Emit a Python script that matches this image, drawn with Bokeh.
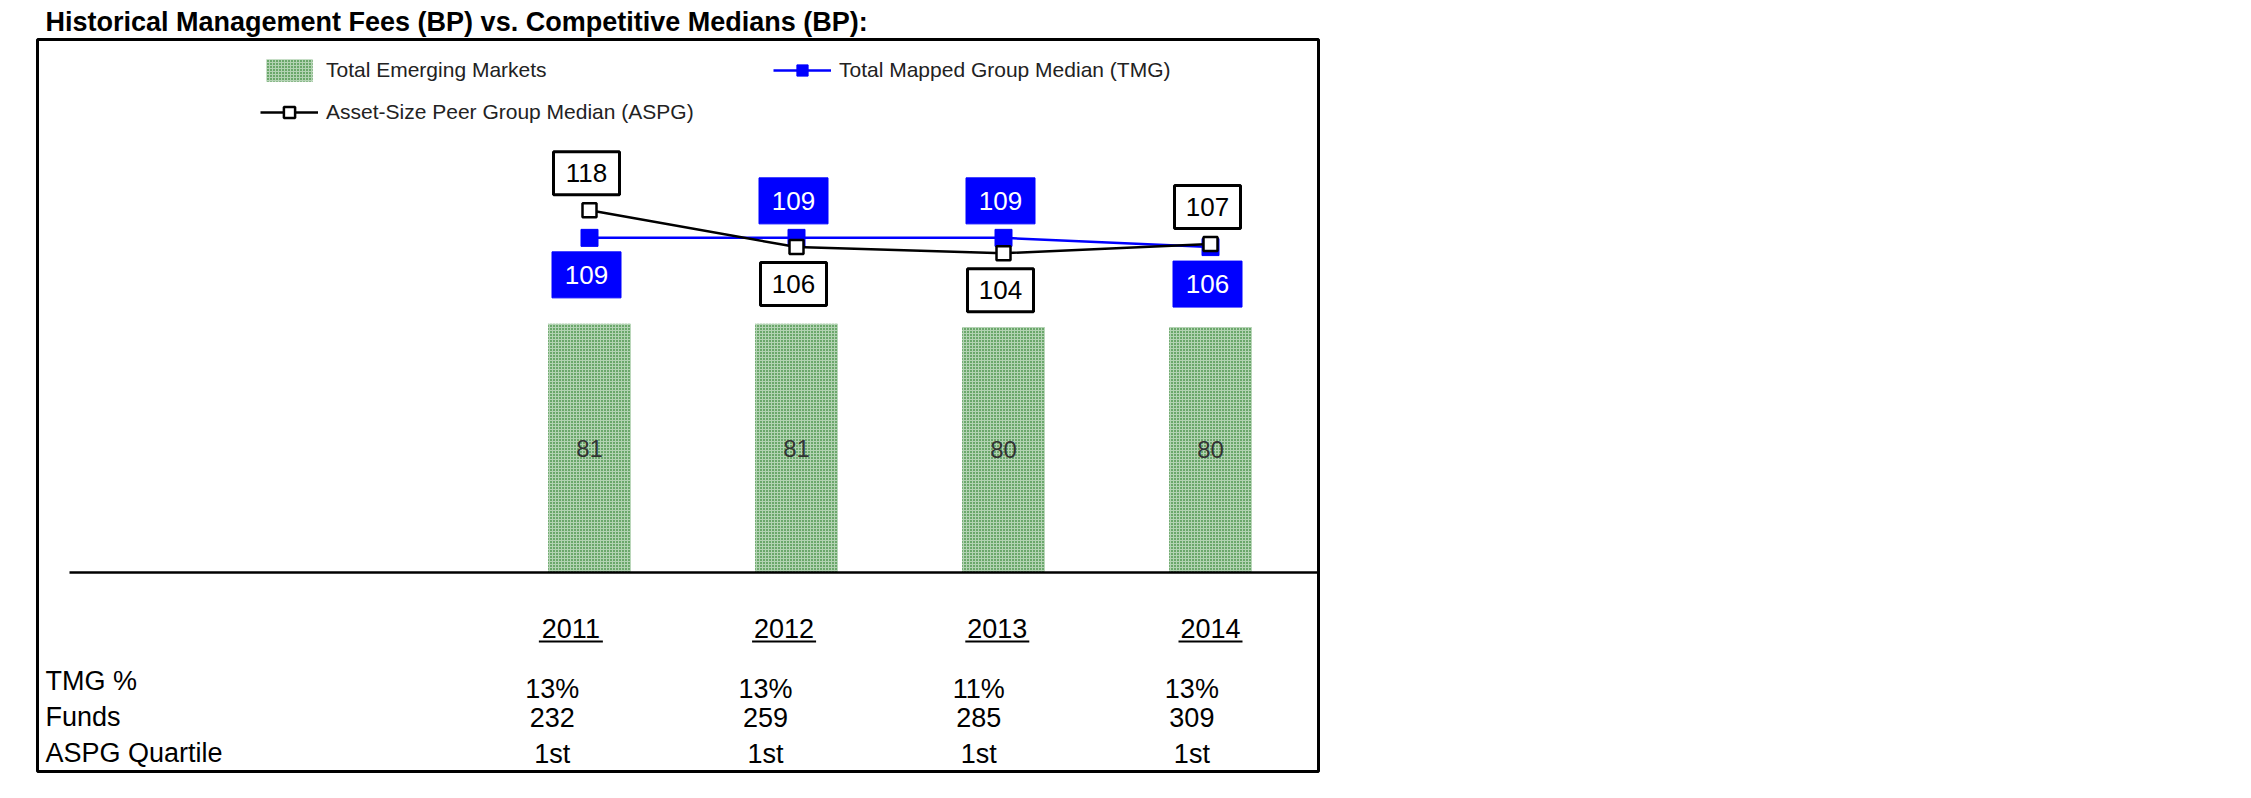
from bokeh.plotting import figure
from bokeh.models import Range1d, Legend, LegendItem, Title
from bokeh.embed import file_html
from bokeh.resources import INLINE
from bokeh.core.properties import value

# ---------------- data ----------------
years = ["2011", "2012", "2013", "2014"]
total_emerging = [81, 81, 80, 80]
tmg_median = [109, 109, 109, 106]
aspg_median = [118, 106, 104, 107]
tmg_pct = ["13%", "13%", "11%", "13%"]
funds = [232, 259, 285, 309]
aspg_quartile = ["1st", "1st", "1st", "1st"]
row_labels = ["TMG %", "Funds", "ASPG Quartile"]
series_names = ["Total Emerging Markets",
                "Total Mapped Group Median (TMG)",
                "Asset-Size Peer Group Median (ASPG)"]
title_text = "Historical Management Fees (BP) vs. Competitive Medians (BP):"

# label placement (+1 above the point, -1 below)
aspg_side = [1, -1, -1, 1]
tmg_side = [-1, 1, 1, -1]

# ---------------- layout (pixels) ----------------
W, H = 2251, 798
BOX_L, BOX_R, BOX_T, BOX_B = 37, 1318, 39, 771
X0_PX, DX_PX = 589, 207          # first category centre, category pitch
Y0_PX, PX_PER_BP = 572, 3.07     # zero line, pixels per basis point

x_start = (BOX_L - X0_PX) / DX_PX
x_end = (BOX_R - X0_PX) / DX_PX
y_end = (Y0_PX - BOX_T) / PX_PER_BP
y_start = (Y0_PX - BOX_B) / PX_PER_BP


def yd(py):
    return (Y0_PX - py) / PX_PER_BP


def xd(px):
    return (px - X0_PX) / DX_PX


FONT = value("Liberation Sans")
BLUE = "#0000FF"

xs = list(range(len(years)))

p = figure(width=W, height=H,
           x_range=Range1d(x_start, x_end), y_range=Range1d(y_start, y_end),
           x_axis_location=None, y_axis_location=None,
           output_backend="svg", toolbar_location=None,
           min_border_left=BOX_L, min_border_right=W - BOX_R,
           min_border_top=BOX_T, min_border_bottom=H - BOX_B)
p.grid.visible = False
p.outline_line_color = "black"
p.outline_line_width = 3
p.background_fill_color = "white"
p.border_fill_color = "white"

p.title = Title(text=title_text, align="left", offset=8, standoff=6,
                text_font="Liberation Sans", text_font_size="27px",
                text_font_style="bold", text_color="black")

# bars
bars = p.vbar(x=xs, top=total_emerging, bottom=0, width=0.40,
              fill_color="#b3d3b3", line_color=None,
              hatch_pattern="dot", hatch_color="#006400",
              hatch_scale=3, hatch_weight=2.2)
p.text(x=xs, y=[v / 2 for v in total_emerging],
       text=[str(v) for v in total_emerging],
       text_align="center", text_baseline="middle",
       text_font=FONT, text_font_size="24px", text_color="#333333")

# zero line
p.segment(x0=[xd(69)], y0=[0], x1=[x_end], y1=[0],
          line_color="black", line_width=2.5)

# TMG series
tmg_line = p.line(xs, tmg_median, line_color=BLUE, line_width=2.5)
tmg_pts = p.scatter(xs, tmg_median, marker="square", size=17,
                    fill_color=BLUE, line_color=BLUE, line_width=1)

# ASPG series
aspg_line = p.line(xs, aspg_median, line_color="black", line_width=2.5)
aspg_pts = p.scatter(xs, aspg_median, marker="square", size=14,
                     fill_color="white", line_color="black", line_width=2.5)

# data label boxes
OFF = 37 / PX_PER_BP
LBL_DX = -3 / DX_PX
tmg_lx = [x + LBL_DX for x in xs]
tmg_ly = [v + s * OFF for v, s in zip(tmg_median, tmg_side)]
aspg_lx = [x + LBL_DX for x in xs]
aspg_ly = [v + s * OFF for v, s in zip(aspg_median, aspg_side)]

p.rect(x=tmg_lx, y=tmg_ly, width=69, height=46,
       width_units="screen", height_units="screen",
       fill_color=BLUE, line_color=BLUE, line_width=1)
p.text(x=tmg_lx, y=tmg_ly, text=[str(v) for v in tmg_median],
       text_align="center", text_baseline="middle",
       text_font=FONT, text_font_size="26px", text_color="white")

p.rect(x=aspg_lx, y=aspg_ly, width=66, height=43,
       width_units="screen", height_units="screen",
       fill_color="white", line_color="black", line_width=3)
p.text(x=aspg_lx, y=aspg_ly, text=[str(v) for v in aspg_median],
       text_align="center", text_baseline="middle",
       text_font=FONT, text_font_size="26px", text_color="black")

# legend
legend = Legend(items=[
    LegendItem(label=series_names[0], renderers=[bars]),
    LegendItem(label=series_names[1], renderers=[tmg_line, tmg_pts]),
    LegendItem(label=series_names[2], renderers=[aspg_line, aspg_pts]),
], orientation="horizontal", ncols=2,
    location=(260 - BOX_L, BOX_B - 126),
    glyph_width=58, glyph_height=28, label_height=28, label_width=433,
    label_standoff=8, spacing=14, padding=0, margin=0,
    label_text_font="Liberation Sans", label_text_font_size="21px",
    label_text_color="#222222",
    background_fill_alpha=0, border_line_alpha=0)
p.add_layout(legend)

# ---------------- table under the chart ----------------
TBL = "27px"
year_x = [x * 1.03 - 0.09 for x in xs]
p.text(x=year_x, y=[yd(628)] * len(xs), text=years,
       text_align="center", text_baseline="middle",
       text_font=FONT, text_font_size=TBL, text_color="black")
UL = 32 / DX_PX
p.segment(x0=[x - UL for x in year_x], y0=[yd(641)] * len(xs),
          x1=[x + UL for x in year_x], y1=[yd(641)] * len(xs),
          line_color="black", line_width=2)

p.text(x=[xd(45)] * 3, y=[yd(680), yd(716), yd(752)], text=row_labels,
       text_align="left", text_baseline="middle",
       text_font=FONT, text_font_size=TBL, text_color="black")

col_x = [x * 1.03 - 0.18 for x in xs]
for row_vals, py in ((tmg_pct, 688), ([str(f) for f in funds], 717),
                     (aspg_quartile, 753)):
    p.text(x=col_x, y=[yd(py)] * len(xs), text=row_vals,
           text_align="center", text_baseline="middle",
           text_font=FONT, text_font_size=TBL, text_color="black")

open("out.html", "w").write(file_html(p, INLINE))
